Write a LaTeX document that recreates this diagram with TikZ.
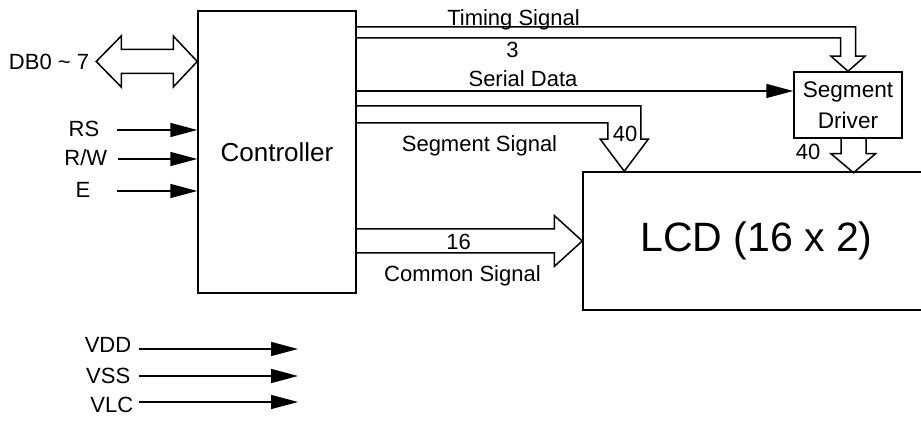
\documentclass[tikz,border=0pt]{standalone}
\usepackage{fontspec}
\setmainfont{Liberation Sans}
\usetikzlibrary{arrows.meta,calc}

\begin{document}
\begin{tikzpicture}[x=0.5pt,y=-0.5pt,line width=0.75pt,
        txt/.style={font=\fontsize{11}{13}\selectfont,inner sep=0pt},
        blk/.style={draw,inner sep=0pt},
        sig/.style={-{Triangle[length=13.5pt,width=7pt]}}]
        \useasboundingbox (0,0) rectangle (921,421);

        % blocks
        \node[blk,minimum width=79pt,minimum height=141pt,font=\fontsize{13}{15}\selectfont] (ctrl) at (277,152) {Controller};
        \node[blk,minimum width=54pt,minimum height=33pt,align=center,font=\fontsize{11.3}{15.5}\selectfont] (segdrv) at (848,105) {Segment\\Driver};
        \node[blk,minimum width=173.5pt,minimum height=69pt,font=\fontsize{20.5}{24}\selectfont] (lcd) at (756.5,241) {LCD (16 x 2)};

        % data bus
        \node[txt,anchor=base] (db) at (49,70) {DB0 \char`~\ 7};
        \draw (ctrl.west |- 0,61.5) -- ++(-24,-25.5) -- ++(0,13.5) -- ++(-52,0) -- ++(0,-13.5) -- ++(-25,25.5)
            -- ++(25,25.5) -- ++(0,-13.5) -- ++(52,0) -- ++(0,13.5) -- cycle;

        % control inputs
        \node[txt,anchor=base east] (rs) at (100,137) {RS};
        \node[txt,anchor=base east] (rw) at (108,166) {R/W};
        \node[txt,anchor=base east] (en) at (91,198) {E};
        \coordinate (rsin) at (117,130);
        \coordinate (rwin) at (118,159);
        \coordinate (enin) at (117,191);
        \draw[sig] (rsin) -- (rsin -| ctrl.west);
        \draw[sig] (rwin) -- (rwin -| ctrl.west);
        \draw[sig] (enin) -- (enin -| ctrl.west);

        % timing signal bus
        \node[txt,anchor=base] (tim) at (513.5,26) {Timing Signal};
        \node[txt,anchor=base] (three) at (512.5,58) {3};
        \draw (ctrl.east |- 0,27) -| ($(segdrv.north)+(7.5,-15)$) -- ++(9.5,0) -- (segdrv.north)
            -- ++(-17,-15) -- ++(9.5,0) |- (ctrl.east |- 0,38);

        % serial data
        \node[txt,anchor=base] (ser) at (523,87) {Serial Data};
        \draw[sig] (ctrl.east |- 0,91) -- (segdrv.west |- 0,91);

        % segment signal bus
        \node[txt,anchor=base] (segsig) at (479.5,152) {Segment Signal};
        \node[txt,anchor=base] (forty) at (625,142) {40};
        \draw (ctrl.east |- 0,106) -| ($(lcd.north west)+(58.5,-32)$) -- ++(7.5,0) -- ($(lcd.north west)+(42,0)$)
            -- ++(-24,-32) -- ++(7.5,0) |- (ctrl.east |- 0,123);

        % segment driver output
        \node[txt,anchor=base] (fortyb) at (808,160) {40};
        \draw ($(segdrv.south)+(-7,0)$) -- ++(0,15) -- ++(-10,0) -- ($(segdrv.south)+(5.5,34)$)
            -- ++(22,-19) -- ++(-9.5,0) -- ++(0,-15);

        % common signal bus
        \node[txt,anchor=base] (sixteen) at (458.5,250) {16};
        \node[txt,anchor=base] (comsig) at (462.5,282) {Common Signal};
        \draw (ctrl.east |- 0,229) -- ($(lcd.west)+(-28,-12)$) -- ++(0,-13.5) -- (lcd.west)
            -- ++(-28,25.5) -- ++(0,-13.5) -- (ctrl.east |- 0,253);

        % power
        \node[txt,anchor=base east] (vdd) at (132,353) {VDD};
        \node[txt,anchor=base east] (vss) at (131,384) {VSS};
        \node[txt,anchor=base east] (vlc) at (134,413) {VLC};
        \coordinate (vddin) at (139,349);
        \coordinate (vssin) at (139,376);
        \coordinate (vlcin) at (139,402);
        \draw[sig] (vddin) -- ++(159,0);
        \draw[sig] (vssin) -- ++(159,0);
        \draw[sig] (vlcin) -- ++(159,0);
    \end{tikzpicture}
\end{document}
